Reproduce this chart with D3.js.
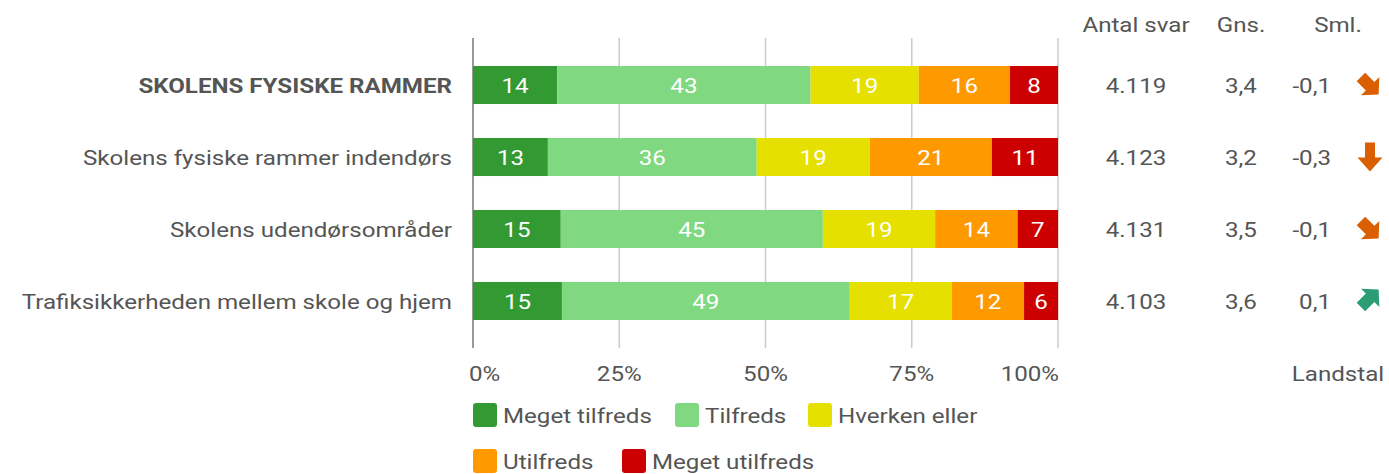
<!DOCTYPE html>
<html>
<head>
<meta charset="utf-8">
<script src="https://cdn.jsdelivr.net/npm/d3@7"></script>
<style>
  body { margin: 0; background: #fff; }
  svg { display: block; font-family: Roboto, "Noto Sans", Arial, sans-serif; }
</style>
</head>
<body>
<div id="chart"></div>
<script>
const categories = [
    "SKOLENS FYSISKE RAMMER",
    "Skolens fysiske rammer indendørs",
    "Skolens udendørsområder",
    "Trafiksikkerheden mellem skole og hjem"
];
const series = ["Meget tilfreds", "Tilfreds", "Hverken eller", "Utilfreds", "Meget utilfreds"];
const colors = ["#339933", "#80d880", "#e6e000", "#ff9900", "#cc0000"];
// andele i procent (aflæst, vises afrundet)
const meget_tilfreds = [14.4, 12.8, 15.0, 15.2];
const tilfreds = [43.3, 35.7, 44.8, 49.2];
const hverken = [18.5, 19.3, 19.2, 17.4];
const utilfreds = [15.6, 20.9, 14.1, 12.4];
const meget_utilfreds = [8.2, 11.3, 6.9, 5.8];
const antal = ["4.119", "4.123", "4.131", "4.103"];
const gns = ["3,4", "3,2", "3,5", "3,6"];
const sml = ["-0,1", "-0,3", "-0,1", "0,1"];
// retning på pil: grader fra "ned"
const trend = [-45, 0, -45, -135];
const trendColor = ["#d95f02", "#d95f02", "#d95f02", "#2a9d74"];
const ticks = [0, 0.25, 0.5, 0.75, 1];

const width = 1389, height = 474;
const plotLeft = 473, plotRight = 1058, plotTop = 38, plotBottom = 348;
const textColor = "#555";
const fs = "21px";
const sx = 1.15;  // teksten er lidt bredere i originalen

const svg = d3.select("#chart").append("svg")
    .attr("width", width)
    .attr("height", height);

function place(x, y) {
    return "translate(" + x + "," + y + ") scale(" + sx + ",1)";
}

const data = categories.map((c, i) => ({
    cat: c,
    "Meget tilfreds": meget_tilfreds[i],
    "Tilfreds": tilfreds[i],
    "Hverken eller": hverken[i],
    "Utilfreds": utilfreds[i],
    "Meget utilfreds": meget_utilfreds[i]
}));

const stacked = d3.stack().keys(series).offset(d3.stackOffsetExpand)(data);

const x = d3.scaleLinear().domain([0, 1]).range([plotLeft, plotRight]);
const y = d3.scaleBand().domain(categories).range([plotTop, plotBottom])
    .paddingInner(0.472).paddingOuter(0.389);
const color = d3.scaleOrdinal().domain(series).range(colors);

// gitterlinjer
svg.append("g").selectAll("line")
    .data(ticks.slice(1))
    .enter().append("line")
    .attr("x1", d => x(d)).attr("x2", d => x(d))
    .attr("y1", plotTop).attr("y2", plotBottom)
    .attr("stroke", "#cccccc")
    .attr("stroke-width", 1.5);

svg.append("line")
    .attr("x1", x(0)).attr("x2", x(0))
    .attr("y1", plotTop).attr("y2", plotBottom)
    .attr("stroke", "#999")
    .attr("stroke-width", 2);

// akse-etiketter
svg.append("g").selectAll("text")
    .data(ticks)
    .enter().append("text")
    .attr("transform", d => place(d === 0 ? x(d) - 4 : d === 1 ? x(d) + 1 : x(d), 381))
    .attr("text-anchor", d => d === 0 ? "start" : d === 1 ? "end" : "middle")
    .attr("fill", textColor)
    .style("font-size", fs)
    .text(d => d3.format(".0%")(d));

// søjler
const layers = svg.append("g").selectAll("g")
    .data(stacked)
    .enter().append("g")
    .attr("fill", d => color(d.key));

layers.selectAll("rect")
    .data(d => d)
    .enter().append("rect")
    .attr("x", d => x(d[0]))
    .attr("y", d => y(d.data.cat))
    .attr("width", d => x(d[1]) - x(d[0]))
    .attr("height", y.bandwidth());

layers.selectAll("text")
    .data(d => d.map(v => ({ key: d.key, v: v })))
    .enter().append("text")
    .attr("transform", d => place((x(d.v[0]) + x(d.v[1])) / 2, y(d.v.data.cat) + y.bandwidth() / 2 + 8))
    .attr("text-anchor", "middle")
    .attr("fill", "#ffffff")
    .style("font-size", fs)
    .text(d => Math.round(d.v.data[d.key]));

// kategorier
svg.append("g").selectAll("text")
    .data(categories)
    .enter().append("text")
    .attr("transform", d => place(452, y(d) + y.bandwidth() / 2 + 8))
    .attr("text-anchor", "end")
    .attr("fill", textColor)
    .style("font-size", fs)
    .style("font-weight", (d, i) => i === 0 ? "bold" : "normal")
    .text(d => d);

// kolonner til højre
const headers = [["Antal svar", 1136], ["Gns.", 1241], ["Sml.", 1338]];
svg.append("g").selectAll("text")
    .data(headers)
    .enter().append("text")
    .attr("transform", d => place(d[1], 32))
    .attr("text-anchor", "middle")
    .attr("fill", textColor)
    .style("font-size", fs)
    .text(d => d[0]);

const rows = svg.append("g").selectAll("g")
    .data(categories)
    .enter().append("g")
    .attr("transform", d => "translate(0," + (y(d) + y.bandwidth() / 2) + ")");

rows.append("text")
    .attr("transform", place(1136, 8))
    .attr("text-anchor", "middle")
    .attr("fill", textColor)
    .style("font-size", fs)
    .text((d, i) => antal[i]);

rows.append("text")
    .attr("transform", place(1241, 8))
    .attr("text-anchor", "middle")
    .attr("fill", textColor)
    .style("font-size", fs)
    .text((d, i) => gns[i]);

rows.append("text")
    .attr("transform", place(1331, 8))
    .attr("text-anchor", "end")
    .attr("fill", textColor)
    .style("font-size", fs)
    .text((d, i) => sml[i]);

const arrowDown = "M-5,-14.5L5,-14.5L5,0.5L12.5,0.5L0,14.5L-12.5,0.5L-5,0.5Z";
const arrowDiag = "M-6,-10L6,-10L6,3L13,3L0,15L-13,3L-6,3Z";
rows.append("path")
    .attr("d", (d, i) => trend[i] === 0 ? arrowDown : arrowDiag)
    .attr("transform", (d, i) => "translate(" + (trend[i] === 0 ? 1370 : 1368) + "," + (trend[i] === 0 ? 0 : -1) + ") rotate(" + trend[i] + ")")
    .attr("fill", (d, i) => trendColor[i]);

svg.append("text")
    .attr("transform", place(1338, 381))
    .attr("text-anchor", "middle")
    .attr("fill", textColor)
    .style("font-size", fs)
    .text("Landstal");

// forklaring
const legendPos = [[473, 403], [675, 403], [808, 403], [473, 449], [622, 449]];
const legend = svg.append("g").selectAll("g")
    .data(series)
    .enter().append("g")
    .attr("transform", (d, i) => "translate(" + legendPos[i][0] + "," + legendPos[i][1] + ")");

legend.append("rect")
    .attr("width", 24).attr("height", 24)
    .attr("rx", 3)
    .attr("fill", d => color(d));

legend.append("text")
    .attr("transform", place(30, 20))
    .attr("fill", textColor)
    .style("font-size", fs)
    .text(d => d);
</script>
</body>
</html>
